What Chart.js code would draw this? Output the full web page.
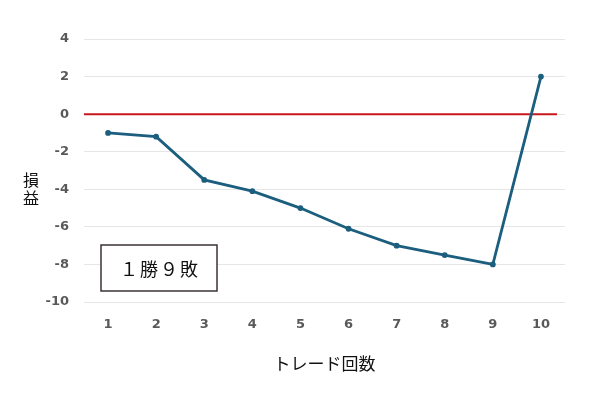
<!DOCTYPE html>
<html>
<head>
<meta charset="utf-8">
<script src="https://cdn.jsdelivr.net/npm/chart.js@4"></script>
<style>
  html, body { margin: 0; padding: 0; background: #fff; }
  #wrap { width: 600px; height: 417px; }
</style>
</head>
<body>
<div id="wrap"><canvas id="pnlChart"></canvas></div>
<script>
// トレード回数と損益
const tradeLabels = ['1', '2', '3', '4', '5', '6', '7', '8', '9', '10'];
const pnlValues = [-1.0, -1.2, -3.5, -4.1, -5.0, -6.1, -7.0, -7.5, -8.0, 2.0];
const yTicks = [4, 2, 0, -2, -4, -6, -8, -10];
const zeroLine = 0;
const noteText = '１勝９敗';
const yTitleChars = ['損', '益'];
const xTitle = 'トレード回数';

const tickFont = { family: 'DejaVu Sans', size: 13, weight: 'bold' };
const jpFont = '"Noto Sans CJK JP", sans-serif';

// ゼロライン・注記・縦書きタイトル
const extrasPlugin = {
    id: 'extras',
    beforeDatasetsDraw(chart) {
        const { ctx, chartArea, scales } = chart;
        const y0 = scales.y.getPixelForValue(zeroLine);
        ctx.save();
        ctx.strokeStyle = '#c8161d';
        ctx.lineWidth = 2;
        ctx.beginPath();
        ctx.moveTo(chartArea.left, y0);
        ctx.lineTo(chartArea.right - 8, y0);
        ctx.stroke();
        ctx.restore();
    },
    afterDraw(chart) {
        const { ctx, chartArea } = chart;
        ctx.save();
        // 注記ボックス
        const bx = chartArea.left + 17, by = 245, bw = 116, bh = 46;
        ctx.fillStyle = '#fff';
        ctx.fillRect(bx, by, bw, bh);
        ctx.strokeStyle = '#3b3333';
        ctx.lineWidth = 1.5;
        ctx.strokeRect(bx, by, bw, bh);
        ctx.fillStyle = '#111';
        ctx.font = '18px ' + jpFont;
        ctx.letterSpacing = '2px';
        ctx.textAlign = 'center';
        ctx.textBaseline = 'middle';
        ctx.fillText(noteText, bx + bw / 2 + 1, by + bh / 2 + 1);
        ctx.letterSpacing = '0px';
        // 縦軸タイトル
        ctx.font = '16px ' + jpFont;
        ctx.fillStyle = '#111';
        yTitleChars.forEach((c, i) => {
            ctx.fillText(c, 31, 180 + i * 18);
        });
        ctx.restore();
    }
};

new Chart(document.getElementById('pnlChart'), {
    type: 'line',
    data: {
        labels: tradeLabels,
        datasets: [{
            label: '損益',
            data: pnlValues,
            borderColor: '#1b5e7e',
            backgroundColor: '#1b5e7e',
            borderWidth: 2.8,
            pointRadius: 1.5,
            pointHoverRadius: 1.5,
            tension: 0
        }]
    },
    options: {
        responsive: true,
        maintainAspectRatio: false,
        animation: false,
        layout: { padding: { top: 39, left: 0, right: 35, bottom: 40 } },
        scales: {
            x: {
                offset: true,
                grid: { display: false },
                border: { display: false },
                ticks: { color: '#595959', font: tickFont, padding: 7 },
                title: {
                    display: true,
                    text: xTitle,
                    color: '#111',
                    font: { family: jpFont, size: 17 },
                    padding: { top: 19, bottom: 3 }
                },
                afterFit(scale) { scale.height = 75; }
            },
            y: {
                min: -10,
                max: 4,
                afterBuildTicks(scale) { scale.ticks = yTicks.map(v => ({ value: v })); },
                grid: { color: '#e6e6e6', lineWidth: 1, drawTicks: false },
                border: { display: false },
                ticks: { color: '#595959', font: tickFont, padding: 15 },
                afterFit(scale) { scale.width = 84; }
            }
        },
        plugins: {
            legend: { display: false },
            tooltip: { enabled: false }
        }
    },
    plugins: [extrasPlugin]
});
</script>
</body>
</html>
